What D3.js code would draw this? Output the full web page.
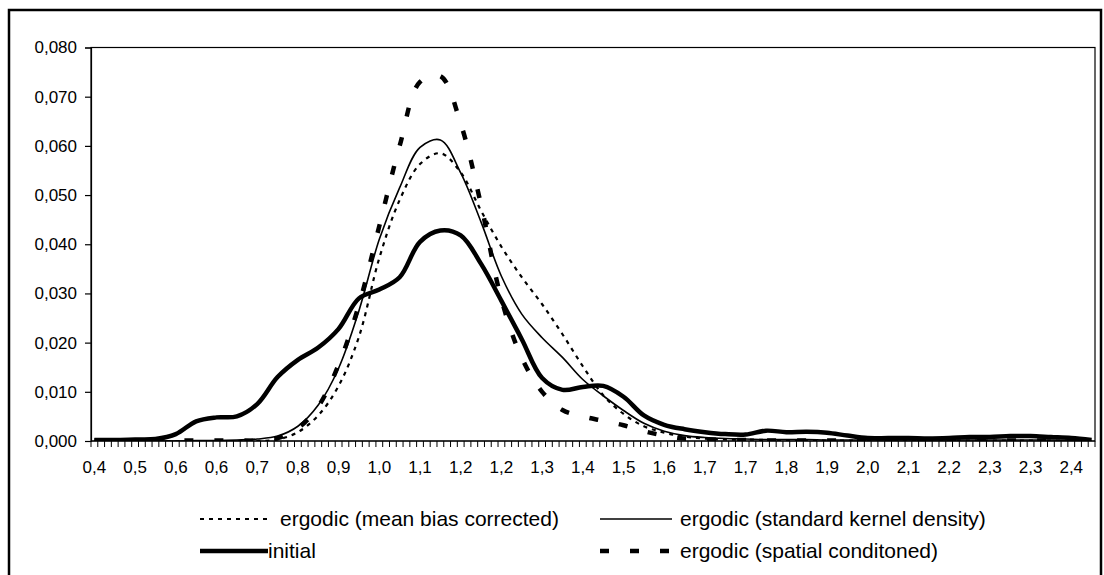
<!DOCTYPE html>
<html><head><meta charset="utf-8">
<script src="https://cdn.jsdelivr.net/npm/d3@7"></script>
<style>
body{margin:0;background:#fff}
text{font-family:"Liberation Sans",Arial,Helvetica,sans-serif;fill:#000}
</style>
</head><body>
<svg id="chart" width="1104" height="575"></svg>
<script>
// ---- data ----
const xTickLabels = ["0,4","0,5","0,6","0,6","0,7","0,8","0,9","1,0","1,1","1,2","1,2","1,3","1,4","1,5","1,6","1,7","1,7","1,8","1,9","2,0","2,1","2,2","2,3","2,3","2,4"];
const nCategories = 148;           // category slots on the x axis
const labelEvery = 6;              // a tick label every 6 categories
const sampleCategories = d3.range(0, 148, 3); // categories at which values were read
const yTicks = [0,0.01,0.02,0.03,0.04,0.05,0.06,0.07,0.08];

const meanBiasCorrected = [0,0,0,0,0,0,0,0,0,0.0003,0.0018,0.0052,0.0112,0.0212,0.0372,0.0490,0.0563,0.0585,0.0546,0.0468,0.0395,0.0333,0.0278,0.0217,0.0152,0.0093,0.0055,0.0030,0.0017,0.0009,0.0005,0.0003,0.0003,0.0002,0.0002,0.0002,0.0001,0.0001,0.0001,0.0001,0.0001,0.0001,0.0001,0.0001,0.0001,0.0001,0.0001,0.0001,0.0001,0.0001];
const standardKernel = [0,0,0,0,0,0.0001,0.0001,0.0002,0.0004,0.0010,0.0030,0.0073,0.0148,0.0265,0.0410,0.0515,0.0597,0.0612,0.0545,0.0445,0.0335,0.0258,0.0210,0.0170,0.0125,0.0092,0.0062,0.0036,0.0020,0.0011,0.0007,0.0005,0.0004,0.0003,0.0003,0.0003,0.0002,0.0002,0.0002,0.0002,0.0002,0.0002,0.0002,0.0002,0.0002,0.0002,0.0002,0.0002,0.0001,0.0001];
const initial = [0.0002,0.0002,0.0003,0.0004,0.0014,0.0040,0.0048,0.0050,0.0075,0.0130,0.0165,0.0190,0.0228,0.0290,0.0308,0.0333,0.0405,0.0428,0.0418,0.0360,0.0285,0.0207,0.0128,0.0104,0.0110,0.0112,0.0090,0.0052,0.0033,0.0024,0.0018,0.0014,0.0013,0.0021,0.0018,0.0019,0.0017,0.0011,0.0006,0.0006,0.0006,0.0005,0.0006,0.0008,0.0008,0.0010,0.0010,0.0008,0.0006,0.0002];
const spatialConditioned = [0.0001,0.0001,0.0001,0.0001,0.0001,0.0001,0.0001,0.0001,0.0001,0.0006,0.0026,0.0070,0.0155,0.0277,0.0437,0.0600,0.0730,0.0742,0.0645,0.0480,0.0288,0.0169,0.0100,0.0063,0.0050,0.0041,0.0032,0.0020,0.0011,0.0005,0.0003,0.0002,0.0002,0.0001,0.0001,0.0001,0.0001,0.0001,0.0001,0.0001,0.0001,0.0001,0.0001,0.0001,0.0001,0.0001,0.0001,0.0001,0.0001,0.0001];

const seriesNames = ["ergodic (mean bias corrected)","ergodic (standard kernel density)","initial","ergodic (spatial conditoned)"];

// ---- layout ----
const svg = d3.select("#chart");
const plot = {left:91, right:1095, top:47.5, bottom:441};
const font = '"Liberation Sans",Arial,sans-serif';

// outer frame
svg.append("rect").attr("x",9).attr("y",10).attr("width",1092).attr("height",600)
  .attr("fill","none").attr("stroke","#000").attr("stroke-width",2.5);

const xBand = d3.scaleBand().domain(d3.range(nCategories)).range([plot.left, plot.right]).paddingInner(0).paddingOuter(0);
const xPos = i => xBand(i) + xBand.bandwidth()/2;
const y = d3.scaleLinear().domain([0,0.08]).range([plot.bottom, plot.top]);

// plot area border
svg.append("rect").attr("x",plot.left).attr("y",plot.top).attr("width",plot.right-plot.left).attr("height",plot.bottom-plot.top)
  .attr("fill","none").attr("stroke","#000").attr("stroke-width",1.2);

// y axis
const yAxis = d3.axisLeft(y).tickValues(yTicks).tickSize(6).tickPadding(8)
  .tickFormat(d => d3.format(".3f")(d).replace(".", ","));
const gy = svg.append("g").attr("transform",`translate(${plot.left},0)`).call(yAxis);
gy.select(".domain").attr("stroke","#000").attr("stroke-width",1.2);
gy.selectAll(".tick line").attr("stroke","#000").attr("stroke-width",1.2);
gy.selectAll(".tick text").attr("font-family",font).attr("font-size",17).attr("fill","#000");

// x axis: tick marks between categories
const boundaries = d3.range(nCategories+1).map(i => plot.left + i*xBand.bandwidth());
const gx = svg.append("g");
gx.append("line").attr("x1",plot.left).attr("x2",plot.right).attr("y1",plot.bottom).attr("y2",plot.bottom)
  .attr("stroke","#000").attr("stroke-width",1.2);
gx.selectAll("line.tk").data(boundaries).join("line").attr("class","tk")
  .attr("x1",d=>d).attr("x2",d=>d).attr("y1",plot.bottom).attr("y2",plot.bottom+6)
  .attr("stroke","#000").attr("stroke-width",1);
gx.selectAll("text").data(xTickLabels).join("text")
  .attr("x",(d,k)=>xPos(k*labelEvery)).attr("y",plot.bottom+32)
  .attr("text-anchor","middle").attr("font-size",17).text(d=>d);

// lines
const clip = svg.append("clipPath").attr("id","clip").append("rect")
  .attr("x",plot.left).attr("y",plot.top-10).attr("width",plot.right-plot.left).attr("height",plot.bottom-plot.top+10);
const line = d3.line().x((d,k)=>xPos(sampleCategories[k])).y(d=>y(d)).curve(d3.curveCatmullRom.alpha(0.5));

const styles = [
  {data:meanBiasCorrected, w:2.2, dash:"4,5"},
  {data:standardKernel, w:1.6, dash:null},
  {data:initial, w:4.5, dash:null},
  {data:spatialConditioned, w:4.5, dash:"9,21"}
];
const gl = svg.append("g").attr("clip-path","url(#clip)");
styles.forEach(s=>{
  gl.append("path").attr("d",line(s.data)).attr("fill","none").attr("stroke","#000")
    .attr("stroke-width",s.w).attr("stroke-dasharray",s.dash).attr("stroke-linejoin","round");
});

// legend
const legendPos = [
  {x:200, y:519}, {x:600, y:519}, {x:200, y:551}, {x:600, y:551}
];
seriesNames.forEach((name,k)=>{
  const p = legendPos[k], s = styles[k];
  svg.append("line").attr("x1",p.x).attr("x2",p.x+(k===2?68:72)).attr("y1",p.y).attr("y2",p.y)
    .attr("stroke","#000").attr("stroke-width",s.w).attr("stroke-dasharray",s.dash);
  svg.append("text").attr("x",p.x+(k===2?68:80)).attr("y",p.y).attr("dy","0.35em")
    .attr("font-size",21).text(name);
});
</script>
</body></html>
